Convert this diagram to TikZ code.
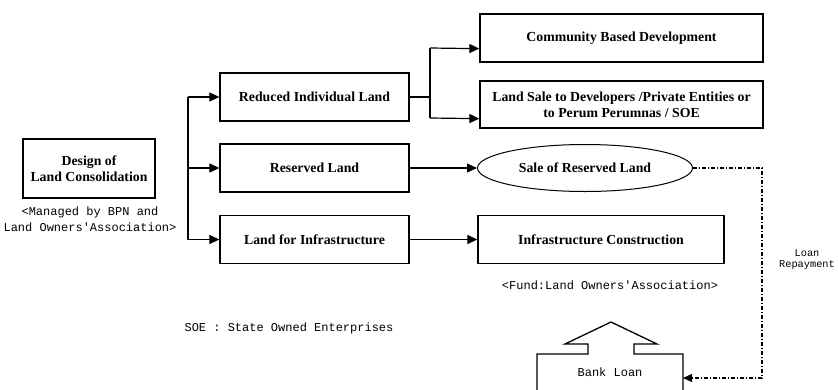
\documentclass[tikz,border=0pt]{standalone}
\usepackage{fontspec}
\setmainfont{Liberation Serif}
\newfontfamily\capfont{Liberation Mono}
\usetikzlibrary{arrows.meta,shapes.geometric}
\begin{document}
\begin{tikzpicture}[x=1pt,y=-1pt,
  box/.style={draw, line width=1.3pt, inner sep=0pt, align=center,
    font=\fontsize{13.8}{16}\selectfont\bfseries},
  capnote/.style={inner sep=0pt, align=center, font=\capfont\fontsize{12}{16}\selectfont},
  smallnote/.style={inner sep=0pt, align=center, font=\capfont\fontsize{10.3}{11.5}\selectfont},
  link/.style={line width=1.2pt, -{Triangle[length=10pt,width=9pt]}},
  trunk/.style={line width=2pt},
  loanline/.style={line width=1.2pt, dash pattern=on 4pt off 2pt on 1pt off 2pt,
    -{Triangle[length=9pt,width=8pt]}},
]
\clip (0,0) rectangle (838,389);
\fill[white] (0,0) rectangle (838,389);

% starting point
\node[box, minimum width=132pt, minimum height=59pt] (design) at (89,168.5)
  {Design of\\Land Consolidation};
\node[capnote] (managed) at (90,219) {<Managed by BPN and\\Land Owners'Association>};

% three kinds of land
\node[box, minimum width=189pt, minimum height=48pt] (reduced) at (314.5,97) {Reduced Individual Land};
\node[box, minimum width=189pt, minimum height=48pt] (reserved) at (314.5,168) {Reserved Land};
\node[box, minimum width=189pt, minimum height=48pt] (landinfra) at (314.5,239.5) {Land for Infrastructure};

% outcomes
\node[box, minimum width=283pt, minimum height=48pt] (community) at (621.5,38) {Community Based Development};
\node[box, minimum width=283pt, minimum height=47pt] (landsale) at (621.5,104.5)
  {Land Sale to Developers /Private Entities or\\to Perum Perumnas / SOE};
\node[draw, ellipse, line width=1pt, minimum width=215pt, minimum height=47pt, inner sep=0pt,
  font=\fontsize{13.8}{16}\selectfont\bfseries] (sale) at (585,168) {Sale of Reserved Land};
\node[box, minimum width=246pt, minimum height=48pt] (infra) at (601,239.5) {Infrastructure Construction};
\node[capnote] (fund) at (610,285) {<Fund:Land Owners'Association>};

\node[capnote] (soe) at (289,328) {SOE : State Owned Enterprises};
\node[smallnote] (repay) at (807,259.5) {Loan\\Repayment};

% bank loan feeding the construction
\draw[line width=1.3pt, line join=miter] (537,395) -- (537,354) -- (588,354) -- (588,344) -- (565,344)
  -- (611,322) -- (657,344) -- (634,344) -- (634,354) -- (683,354) -- (683,395);
\node[capnote] (bank) at (610,372) {Bank Loan};
\coordinate (bankin) at (683,378);

% distribution from the design
\coordinate (t1) at (188,97);
\coordinate (t3) at (188,239.5);
\draw[trunk] (t1) -- (t3);
\draw[link] (t1) -- (reduced.west);
\draw[link] (t1 |- reserved.west) -- (reserved.west);
\draw[link] (t3) -- (landinfra.west);

% split of the reduced land
\coordinate (bt) at (430,48);
\coordinate (bb) at (430,118);
\draw[line width=1.3pt] (reduced.east) -- (reduced.east -| bt);
\draw[line width=1.5pt] (bt) -- (bb);
\draw[link] (bt) -- ([yshift=14pt]community.south west);
\draw[link] (bb) -- ([yshift=10pt]landsale.south west);

\draw[link] (reserved.east) -- (sale.west);
\draw[link] (landinfra.east) -- (infra.west);

% repayment of the loan
\coordinate (lr1) at (762,168);
\coordinate (lr2) at (762,378);
\draw[loanline] (sale.east) -- (lr1) -- (lr2) -- (bankin);
\end{tikzpicture}
\end{document}
